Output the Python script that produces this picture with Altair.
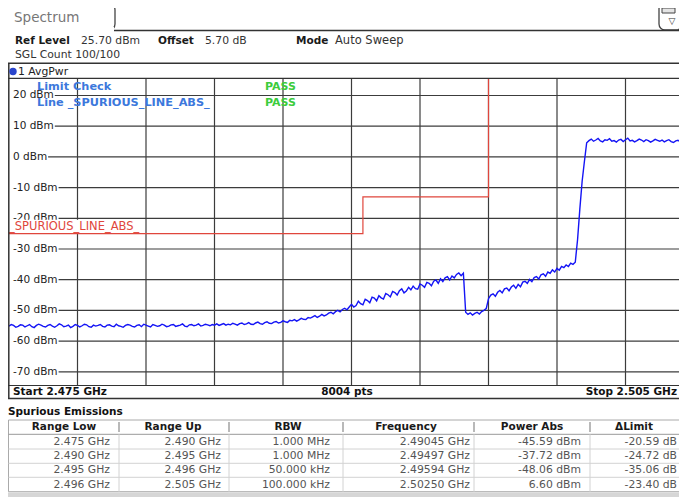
import altair as alt
import pandas as pd

FONT = "DejaVu Sans"

# ------------------------------------------------------------------ data
FREQ_START = 2.475
FREQ_STOP = 2.505
FREQ_STEP = 0.0001

# trace levels (dBm), one value per 0.1 MHz
TRACE_FLOOR = [
    -55.1, -54.6, -54.9, -55.5, -55.2, -54.7, -54.8, -55.4, -55.0, -54.6,
    -55.3, -55.6, -54.9, -54.5, -54.8, -55.2, -55.4, -54.9, -54.6, -55.1,
    -55.5, -55.0, -54.4, -54.7, -55.3, -55.1, -54.8, -55.6, -55.2, -54.6,
    -54.9, -55.4, -55.0, -54.5, -54.7, -55.3, -55.5, -54.8, -55.1, -54.9,
    -54.6, -55.2, -55.4, -54.8, -54.7, -55.1, -55.3, -54.5, -55.0, -55.2,
    -55.5, -54.9, -54.6, -54.8, -55.2, -55.4, -54.9, -54.7, -55.3, -54.5,
    -54.8, -55.1, -55.4, -54.6, -54.9, -55.2, -55.0, -54.5, -54.8, -55.3,
    -55.1, -54.7, -54.6, -55.2, -55.0, -54.8, -54.4, -55.1, -55.3, -54.7,
    -54.6, -55.0, -54.8, -54.4, -55.1, -54.9, -54.5, -54.7, -55.0, -54.6,
    -54.8, -54.4, -54.9, -54.6, -54.3, -54.8, -54.5,
]
TRACE_KNEE = [
    -54.7, -54.2, -54.5, -54.8, -54.3, -54.1, -54.6, -54.4, -54.0, -54.5,
    -54.6, -54.1, -53.8, -54.3, -54.5, -54.0, -53.7, -54.2, -54.3, -53.8,
    -53.6, -54.1, -53.9, -53.4, -53.7, -53.9, -53.2, -53.4, -53.0, -53.5,
    -53.1, -52.6, -52.9, -53.0, -52.3, -52.5, -52.1, -51.7, -52.3, -51.9,
    -51.3, -51.8, -51.5, -50.9, -50.6, -51.1, -50.4, -50.0, -50.5, -49.7,
    -49.3, -49.8, -48.9,
]
TRACE_RAMP1 = [
    -48.0, -48.9, -48.4, -47.0, -47.8, -48.2, -46.4, -46.8, -47.5, -45.7,
    -46.0, -46.9, -45.2, -45.9, -46.3, -44.5, -44.9, -45.6, -43.8, -44.2,
    -45.0, -43.6, -43.0, -44.3, -43.7, -42.5, -43.3, -42.1, -42.9, -43.1,
    -41.4, -41.8, -42.5, -40.9, -41.2, -42.0, -40.5, -40.1, -41.2, -39.7,
    -40.6, -39.4, -39.0, -40.1, -38.8, -39.4, -38.3, -37.8, -38.7, -37.9,
]
TRACE_NOTCH = [-50.6, -51.3, -50.8, -51.5, -51.0, -50.6, -51.2, -50.4, -50.0, -49.4]
TRACE_RAMP2 = [
    -46.2, -45.0, -44.6, -45.4, -44.1, -43.5, -44.3, -43.0, -42.7, -43.6,
    -42.4, -41.8, -42.8, -41.5, -42.3, -40.8, -40.5, -41.2, -39.9, -40.6,
    -39.3, -39.0, -39.8, -38.4, -38.1, -38.9, -37.5, -37.9, -36.8, -37.5,
    -36.3, -36.9, -35.7, -36.1, -35.2, -35.7, -34.6, -35.0, -34.3,
]
TRACE_EDGE = [-27.0, -17.0, -8.0, -1.5]
TRACE_CARRIER = [
    4.6, 5.3, 5.8, 5.1, 5.5, 6.0, 5.2, 4.9, 5.6, 5.4,
    5.9, 5.1, 5.3, 4.8, 5.5, 5.7, 5.0, 5.6, 6.1, 5.2,
    5.4, 4.9, 5.3, 5.8, 5.5, 5.0, 5.6, 5.3, 4.8, 5.2,
    5.7, 5.4, 5.1, 5.5, 4.9, 5.3, 5.6, 5.0, 4.7, 5.2,
    5.4, 4.9, 5.1, 5.3, 4.6, 5.0, 4.8, 5.1,
]

LIMIT_FREQ = [2.475, 2.4905, 2.4905, 2.496, 2.496, 2.505]
LIMIT_DBM = [-25, -25, -13, -13, 30, 30]

Y_TICKS = [20, 10, 0, -10, -20, -30, -40, -50, -60, -70]
X_GRID = [2.478, 2.481, 2.484, 2.487, 2.490, 2.493, 2.496, 2.499, 2.502]

HEADERS = ["Range Low", "Range Up", "RBW", "Frequency", "Power Abs", "\u0394Limit"]
RANGE_LOW = ["2.475 GHz", "2.490 GHz", "2.495 GHz", "2.496 GHz"]
RANGE_UP = ["2.490 GHz", "2.495 GHz", "2.496 GHz", "2.505 GHz"]
RBW = ["1.000 MHz", "1.000 MHz", "50.000 kHz", "100.000 kHz"]
FREQUENCY = ["2.49045 GHz", "2.49497 GHz", "2.49594 GHz", "2.50250 GHz"]
POWER_ABS = ["-45.59 dBm", "-37.72 dBm", "-48.06 dBm", "6.60 dBm"]
DELTA_LIMIT = ["-20.59 dB", "-24.72 dB", "-35.06 dB", "-23.40 dB"]

# ------------------------------------------------------------------ layout
SVG_W, SVG_H = 671, 489  # keep inside the body width so the page is not zoomed out
W, H = SVG_W - 1, 307    # visible plot area (instrument grid is 685 px wide, cut at the right)
FULL_W = 685
OX, OY = 9, 78           # page position of plot origin
RIGHT = 8 + SVG_W        # last visible page column


def P(x, y):
    return x - OX, y - OY


VIEW_STOP = FREQ_START + (FREQ_STOP - FREQ_START) * W / FULL_W
XS = alt.Scale(domain=[FREQ_START, VIEW_STOP], nice=False, zero=False)
YS = alt.Scale(domain=[-74.3, 25.7], nice=False, zero=False)

levels = TRACE_FLOOR + TRACE_KNEE + TRACE_RAMP1 + TRACE_NOTCH + TRACE_RAMP2 + TRACE_EDGE + TRACE_CARRIER
freqs = [round(FREQ_START + i * FREQ_STEP, 4) for i in range(len(levels))]
trace_df = pd.DataFrame({"f": freqs, "dbm": levels})
limit_df = pd.DataFrame({"f": LIMIT_FREQ, "dbm": LIMIT_DBM, "i": list(range(len(LIMIT_FREQ)))})

CW = {"-": 0.361, " ": 0.318, "d": 0.635, "B": 0.686, "m": 0.974}
def text_w(s, size):
    return sum(CW.get(c, 0.636) for c in s) * size

tick_labels = [f"{v} dBm" for v in Y_TICKS]
hgrid_df = pd.DataFrame({
    "lvl": Y_TICKS,
    "label": tick_labels,
    "x0": [4 + text_w(t, 10.5) + 1 for t in tick_labels],
})

ONE = pd.DataFrame({"a": [0]})


def texts(items, size, color, weight="normal", align="left"):
    rows = []
    for t, x, y in items:
        px, py = P(x, y)
        rows.append({"px": px, "py": py, "t": t})
    return alt.Chart(pd.DataFrame(rows)).mark_text(
        font=FONT, fontSize=size, color=color, fontWeight=weight,
        align=align, baseline="middle"
    ).encode(
        x=alt.X("px:Q", scale=None), y=alt.Y("py:Q", scale=None), text="t:N"
    )


def rules(segs):
    rows = []
    for x1, y1, x2, y2, c, w in segs:
        a, b = P(x1, y1)
        cc, d = P(x2, y2)
        rows.append({"x": a, "y": b, "x2": cc, "y2": d, "c": c, "w": w})
    return alt.Chart(pd.DataFrame(rows)).mark_rule().encode(
        x=alt.X("x:Q", scale=None), x2="x2:Q",
        y=alt.Y("y:Q", scale=None), y2="y2:Q",
        color=alt.Color("c:N", scale=None),
        strokeWidth=alt.StrokeWidth("w:Q", scale=None),
    )


def box(x1, y1, x2, y2, fill="white", stroke="transparent", sw=1, r=0):
    a, b = P(x1, y1)
    c, d = P(x2, y2)
    return alt.Chart(ONE).mark_rect(
        fill=fill, stroke=stroke, strokeWidth=sw, cornerRadius=r
    ).encode(x=alt.value(a), x2=alt.value(c), y=alt.value(b), y2=alt.value(d))


GRID = "#3c3c3c"
RED = "#e0463c"
BLUE_TRACE = "#1414f5"
BLUE_TXT = "#3c78dc"
GREEN_TXT = "#3ccc3c"

# ------------------------------------------------------------------ plot layers
vgrid = alt.Chart(pd.DataFrame({"f": X_GRID})).mark_rule(color=GRID, strokeWidth=1.2).encode(
    x=alt.X("f:Q", scale=XS, axis=None), y=alt.value(0), y2=alt.value(H)
)
hgrid = alt.Chart(hgrid_df).mark_rule(color=GRID, strokeWidth=1.2).encode(
    y=alt.Y("lvl:Q", scale=YS, axis=None), x=alt.X("x0:Q", scale=None), x2=alt.value(W + 2)
)
ylabels = alt.Chart(hgrid_df).mark_text(
    font=FONT, fontSize=10.5, color="#222", align="left", baseline="middle"
).encode(x=alt.value(4), y=alt.Y("lvl:Q", scale=YS, axis=None), text="label:N")

trace = alt.Chart(trace_df).mark_line(color=BLUE_TRACE, strokeWidth=1.4, clip=True).encode(
    x=alt.X("f:Q", scale=XS, axis=None), y=alt.Y("dbm:Q", scale=YS, axis=None)
)
limit = alt.Chart(limit_df).mark_line(color=RED, strokeWidth=1.2, clip=True).encode(
    x=alt.X("f:Q", scale=XS, axis=None), y=alt.Y("dbm:Q", scale=YS, axis=None),
    order="i:Q",
)
red_bg = box(8.5, 219.8, 140, 233)
red_label = alt.Chart(pd.DataFrame({"lvl": [LIMIT_DBM[0]], "t": ["_SPURIOUS_LINE_ABS_"]})).mark_text(
    font=FONT, fontSize=11.5, color=RED, align="left", baseline="middle", dy=-7
).encode(x=alt.value(0), y=alt.Y("lvl:Q", scale=YS, axis=None), text="t:N")

limit_texts = texts([("Limit Check", 37, 87.3), ("Line _SPURIOUS_LINE_ABS_", 37, 102.7)],
                    11.3, BLUE_TXT, "bold")
pass_texts = texts([("PASS", 265, 87.3), ("PASS", 265, 102.7)], 11, GREEN_TXT, "bold")

# ------------------------------------------------------------------ frame / header
tab = box(5, 3, 115, 31, stroke="#444", sw=1.3, r=7)
tab_cover = box(6, 27, 114, 33)
icon = box(RIGHT - 20, 3, RIGHT + 3, 30, stroke="#444", sw=1.3, r=6)
icon_in = box(RIGHT - 17, 8, RIGHT - 4, 13, fill="#e4e4e4", stroke="#444", sw=1)
icon_tri = texts([("\u25bd", RIGHT - 10.5, 20.5)], 9, "#333")

frame = rules([
    (114, 30.5, 700, 30.5, "#333", 1.5),
    (8, 63.3, 700, 63.3, "#333", 1.5),
    (8, 78.3, 700, 78.3, "#333", 1.2),
    (8, 385.5, 700, 385.5, "#333", 1.2),
    (8, 398.5, 700, 398.5, "#333", 1.5),
    (8.8, 63, 8.8, 398.5, "#333", 1.5),
])

spectrum_t = texts([("Spectrum", 14, 17.5)], 13.5, "#777")
hdr_bold = texts([("Ref Level", 15, 41), ("Offset", 158, 41), ("Mode", 296, 41)], 10.5, "#1a1a1a", "bold")
hdr_reg = texts([("25.70 dBm", 81, 41), ("5.70 dB", 205, 41), ("SGL Count 100/100", 15, 55)],
                10.8, "#333")
hdr_mode = texts([("Auto Sweep", 335, 41)], 11.5, "#333")
avg_dot = alt.Chart(ONE).mark_point(filled=True, size=55, color="#2a45cc", opacity=1).encode(
    x=alt.value(13 - OX), y=alt.value(71.5 - OY)
)
avg_t = texts([("1 AvgPwr", 18, 71.7)], 10.8, "#222")

bar_l = texts([("Start 2.475 GHz", 13, 392.3)], 10.5, "#111", "bold")
bar_c = texts([("8004 pts", 347, 392.3)], 10.5, "#111", "bold", "center")
bar_r = texts([("Stop 2.505 GHz", RIGHT - 2, 392.3)], 10.5, "#111", "bold", "right")

# ------------------------------------------------------------------ table
COL_SEP = [119, 229, 343, 474, 590]
COL_CENTER = [64, 173, 288, 406, 532, 634]
COL_RIGHT = [110, 221, 330, 470, 581, RIGHT - 2]
ROW_Y = [441.7, 456, 470, 484.5]

spur_t = texts([("Spurious Emissions", 8, 411.7)], 10.5, "#111", "bold")
table_box = box(8.5, 420, 700, 491.7, stroke="#aaa", sw=1)
bottom_band = box(8, 492.5, 700, 500, fill="#d6d6d6")
table_lines = rules(
    [(8.5, 434.3, 700, 434.3, "#999", 1)]
    + [(8.5, y, 700, y, "#d2d2d2", 1) for y in (449, 463.3, 477.3)]
    + [(x, 422, x, 432, "#8a8a8a", 1.2) for x in COL_SEP]
    + [(x, 434.3, x, 491.7, "#d2d2d2", 1) for x in COL_SEP]
)
head_t = texts(list(zip(HEADERS, COL_CENTER, [426.7] * 6)), 10.5, "#1a1a1a", "bold", "center")
cols = [RANGE_LOW, RANGE_UP, RBW, FREQUENCY, POWER_ABS, DELTA_LIMIT]
cell_items = []
for c, col in enumerate(cols):
    for r, val in enumerate(col):
        cell_items.append((val, COL_RIGHT[c], ROW_Y[r]))
cell_t = texts(cell_items, 10.8, "#555", "normal", "right")

chart = alt.layer(
    tab, tab_cover, icon, icon_in, icon_tri,
    vgrid, hgrid, ylabels, trace, limit, red_bg, red_label,
    limit_texts, pass_texts,
    frame, spectrum_t, hdr_bold, hdr_reg, hdr_mode, avg_dot, avg_t,
    bar_l, bar_c, bar_r,
    spur_t, bottom_band, table_box, table_lines, head_t, cell_t,
).properties(
    width=W, height=H,
    padding={"left": 1, "top": 70, "right": 0, "bottom": SVG_H - 70 - H},
    autosize=alt.AutoSizeParams(type="none"),
    background="white",
).configure_view(stroke="transparent")

chart.save("out.html", embed_options={"renderer": "svg", "actions": False})
